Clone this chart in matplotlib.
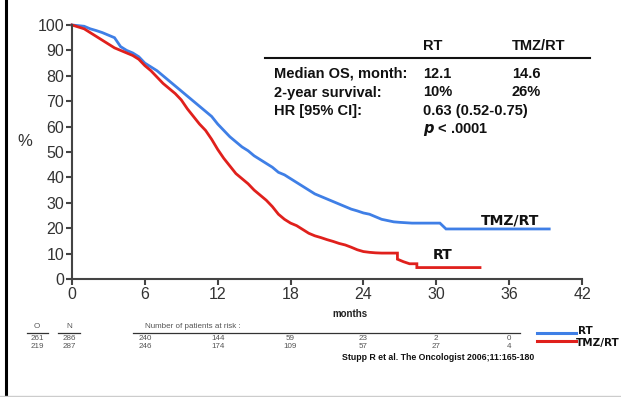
import matplotlib

matplotlib.use("Agg")
import matplotlib.pyplot as plt
from matplotlib.lines import Line2D
from matplotlib.transforms import blended_transform_factory

# ---- data ---------------------------------------------------------------
rt_t = [0, 1.0, 1.5, 2, 2.5, 3, 3.5, 4, 4.5, 5, 5.5, 6, 6.5, 7, 7.5, 8, 8.5, 9,
        9.5, 10, 10.5, 11, 11.5, 12, 12.5, 13, 13.5, 14, 14.5, 15, 15.5, 16,
        16.5, 17, 17.5, 18, 18.5, 19, 19.5, 20, 20.5, 21, 21.5, 22, 22.5, 23,
        23.5, 24, 24.5, 25, 25.5, 26, 26.8, 26.8, 27.3, 27.8, 28.4, 28.4, 33.6]
rt_s = [100, 98.5, 97, 95.5, 94, 92.5, 91, 90, 89, 88, 86.5, 84, 82, 79.5, 77,
        75, 73, 70.5, 67, 64, 61, 58.5, 55, 51, 47.5, 44.5, 41.5, 39.5, 37.5,
        35, 33, 31, 28.5, 25.5, 23.5, 22, 21, 19.5, 18, 17, 16.3, 15.5, 14.8,
        14, 13.4, 12.5, 11.5, 10.8, 10.5, 10.3, 10.2, 10.2, 10.2, 7.8, 6.8,
        6.0, 6.0, 4.5, 4.5]

tmz_t = [0, 1.0, 1.5, 2, 2.5, 3, 3.5, 4, 4.5, 5, 5.5, 6, 6.5, 7, 7.5, 8, 8.5, 9,
         9.5, 10, 10.5, 11, 11.5, 12, 12.5, 13, 13.5, 14, 14.5, 15, 15.5, 16,
         16.5, 17, 17.5, 18, 18.5, 19, 19.5, 20, 20.5, 21, 21.5, 22, 22.5, 23,
         23.5, 24, 24.5, 25, 25.5, 26, 26.5, 27, 28, 30.3, 30.8, 39.3]
tmz_s = [100, 99.5, 98.5, 97.8, 97, 96, 95, 91.5, 90, 89, 87.5, 85, 83.5, 82,
         80, 78, 76, 74, 72, 70, 68, 66, 64, 61, 58.5, 56, 54, 52, 50.5, 48.5,
         47, 45.5, 44, 42, 41, 39.5, 38, 36.5, 35, 33.5, 32.5, 31.5, 30.5, 29.5,
         28.5, 27.5, 26.8, 26, 25.5, 24.5, 23.5, 23, 22.5, 22.3, 22, 22, 19.7,
         19.7]

x_ticks = [0, 6, 12, 18, 24, 30, 36, 42]
y_ticks = [0, 10, 20, 30, 40, 50, 60, 70, 80, 90, 100]

risk_months = [6, 12, 18, 24, 30, 36]
risk_rt = ["240", "144", "59", "23", "2", "0"]
risk_tmz = ["246", "174", "109", "57", "27", "4"]
obs = ["261", "219"]
num = ["286", "287"]

table_rows = ["Median OS, month:", "2-year survival:", "HR [95% CI]:"]
table_rt = ["12.1", "10%", "0.63 (0.52-0.75)"]
table_tmz = ["14.6", "26%", ""]

BLUE = "#3f7fe6"
RED = "#e0201c"
AXIS = "#444444"
W, H = 621, 397


def fx(px):
    return px / W


def fy(py):
    return 1 - py / H


plt.rcParams["font.family"] = ["Liberation Sans", "DejaVu Sans"]

fig = plt.figure(figsize=(6.21, 3.97), dpi=100)
fig.patch.set_facecolor("white")
ax = fig.add_axes([fx(72), fy(279), fx(582) - fx(72), fy(25) - fy(279)])

ax.plot(tmz_t, tmz_s, color=BLUE, linewidth=2.0, clip_on=False,
        solid_joinstyle="miter")
ax.plot(rt_t, rt_s, color=RED, linewidth=2.0, clip_on=False,
        solid_joinstyle="miter")

ax.set_xlim(0, 42)
ax.set_ylim(0, 100)
ax.set_xticks(x_ticks)
ax.set_yticks(y_ticks)
for s in ("top", "right"):
    ax.spines[s].set_visible(False)
for s in ("left", "bottom"):
    ax.spines[s].set_color(AXIS)
    ax.spines[s].set_linewidth(1.5)
ax.tick_params(colors=AXIS, width=1.5, length=4.5, labelsize=11.5, pad=1,
               labelcolor="#333333")

fig.text(fx(25), fy(141), "%", fontsize=12, color="#333333", ha="center", va="center")
fig.text(fx(350), fy(314), "months", fontsize=7, weight="bold", color="#222222",
         ha="center", va="center")

# stats table (baseline aligned)
bold = dict(fontsize=10.5, weight="bold", color="#111111", va="baseline")
fig.text(fx(423), fy(50), "RT", **bold)
fig.text(fx(512), fy(50), "TMZ/RT", **bold)
fig.add_artist(Line2D([fx(265), fx(590)], [fy(58), fy(58)], color="#111111", linewidth=1.5))
for i, (lab, a, b) in enumerate(zip(table_rows, table_rt, table_tmz)):
    y = fy(78 + i * 18.5)
    fig.text(fx(274), y, lab, **bold)
    fig.text(fx(423), y, a, **bold)
    if b:
        fig.text(fx(512), y, b, **bold)
fig.text(fx(423), fy(133), r"$\boldsymbol{p}$ < .0001", **bold)

# curve labels
lab = dict(fontsize=10, weight="bold", color="#111111", family="DejaVu Sans",
           ha="center", va="center")
ax.text(36.1, 23.2, "TMZ/RT", **lab)
ax.text(30.5, 9.3, "RT", **lab)

# risk table
small = dict(fontsize=5.8, color="#555555", ha="center", va="center")
fig.text(fx(37), fy(327), "O", **small)
fig.text(fx(69), fy(327), "N", **small)
fig.text(fx(145), fy(327), "Number of patients at risk :", fontsize=5.8,
         color="#555555", ha="left", va="center")
for x0, x1 in ((27, 48), (58, 80), (133, 520)):
    fig.add_artist(Line2D([fx(x0), fx(x1)], [fy(333), fy(333)], color="#333333",
                          linewidth=0.9))
for i, (o, n) in enumerate(zip(obs, num)):
    fig.text(fx(37), fy(339 + i * 7.5), o, **small)
    fig.text(fx(69), fy(339 + i * 7.5), n, **small)
tr = blended_transform_factory(ax.transData, fig.transFigure)
for m, a, b in zip(risk_months, risk_rt, risk_tmz):
    ax.text(m, fy(339), a, transform=tr, **small)
    ax.text(m, fy(346.5), b, transform=tr, **small)

# legend
fig.add_artist(Line2D([fx(537), fx(576)], [fy(333), fy(333)], color=BLUE, linewidth=2.2))
fig.add_artist(Line2D([fx(537), fx(576)], [fy(341), fy(341)], color=RED, linewidth=2.2))
leg = dict(fontsize=7.5, weight="bold", color="#111111", family="DejaVu Sans",
           ha="left", va="center")
fig.text(fx(578), fy(331), "RT", **leg)
fig.text(fx(576), fy(343), "TMZ/RT", **leg)

fig.text(fx(438), fy(357), "Stupp R et al. The Oncologist 2006;11:165-180",
         fontsize=6.3, weight="bold", color="#111111", ha="center", va="center")

# frame: black left edge, grey bottom line
fig.add_artist(Line2D([fx(5.5), fx(5.5)], [0, 1], color="black", linewidth=2.2))
fig.add_artist(Line2D([0, 1], [fy(395.5), fy(395.5)], color="#cccccc", linewidth=1))

fig.savefig("out.png", dpi=100, facecolor="white")
